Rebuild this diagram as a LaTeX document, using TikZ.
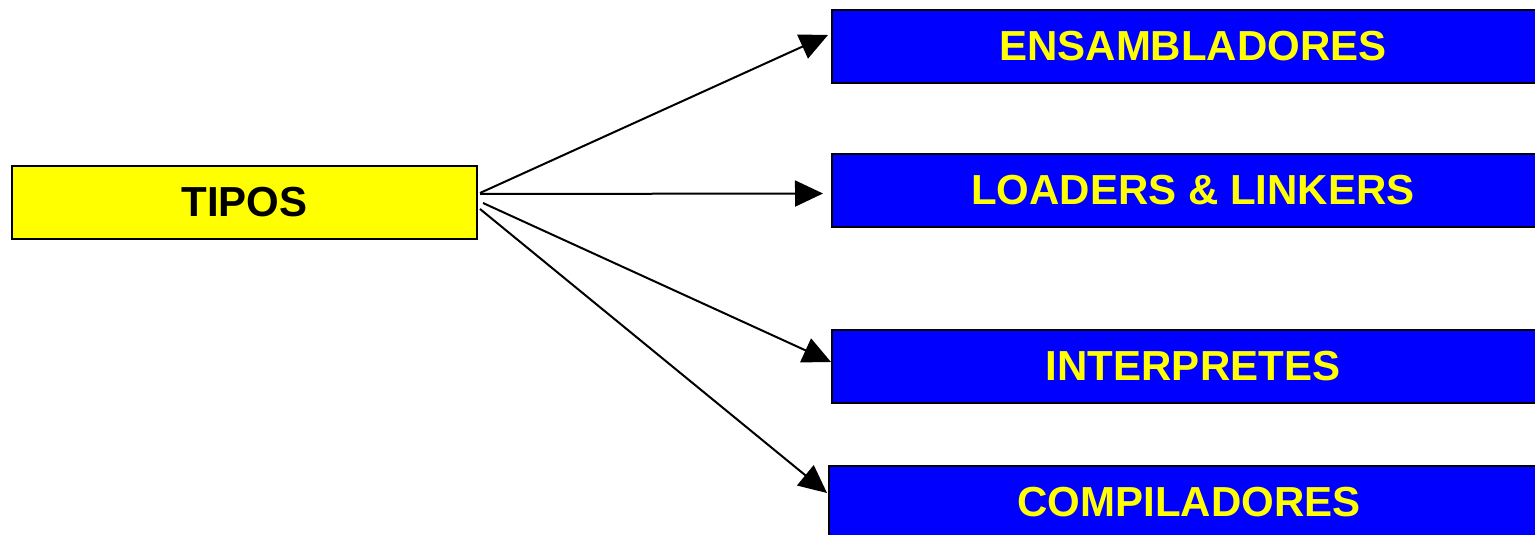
\documentclass[tikz,border=0pt]{standalone}
\usepackage{fontspec}
\setmainfont{Liberation Sans}
\usetikzlibrary{arrows.meta,calc}
\definecolor{ylw}{RGB}{255,255,0}
\definecolor{blu}{RGB}{0,0,255}
\tikzset{
  box/.style={draw=black, line width=2pt, rectangle, inner sep=0pt, anchor=north west,
    font=\fontsize{42}{42}\selectfont\bfseries},
  typebox/.style={box, fill=ylw, text=black, minimum width=465pt, minimum height=73pt},
  catbox/.style={box, fill=blu, text=ylw, minimum width=722pt, minimum height=73pt},
  conn/.style={line width=2pt, -{Triangle[length=28pt,width=26pt]}}
}
\begin{document}
\begin{tikzpicture}[x=1pt,y=-1pt]
\useasboundingbox (0,0) rectangle (1535,535);
\clip (0,0) rectangle (1535,535);
\fill[white] (0,0) rectangle (1535,535);
\node[typebox] (tipos) at (11,165) {TIPOS};
\node[catbox] (ens) at (831,9) {ENSAMBLADORES};
\node[catbox] (load) at (831,153) {LOADERS \& LINKERS};
\node[catbox] (inter) at (831,329) {INTERPRETES};
\node[catbox, minimum width=720pt] (comp) at (828,465) {COMPILADORES};
\draw[conn] ($(tipos.east)+(2,-9.5)$) -- ($(ens.west)+(-3,-11.5)$);
\draw[conn] ($(tipos.east)+(2,-8.5)$) -- ($(load.west)+(-8,3)$);
\draw[conn] ($(tipos.east)+(5,0.5)$) -- ($(inter.west)+(0,-4.5)$);
\draw[conn] ($(tipos.east)+(2,6.5)$) -- ($(comp.west)+(-1,-9.5)$);
\end{tikzpicture}
\end{document}
